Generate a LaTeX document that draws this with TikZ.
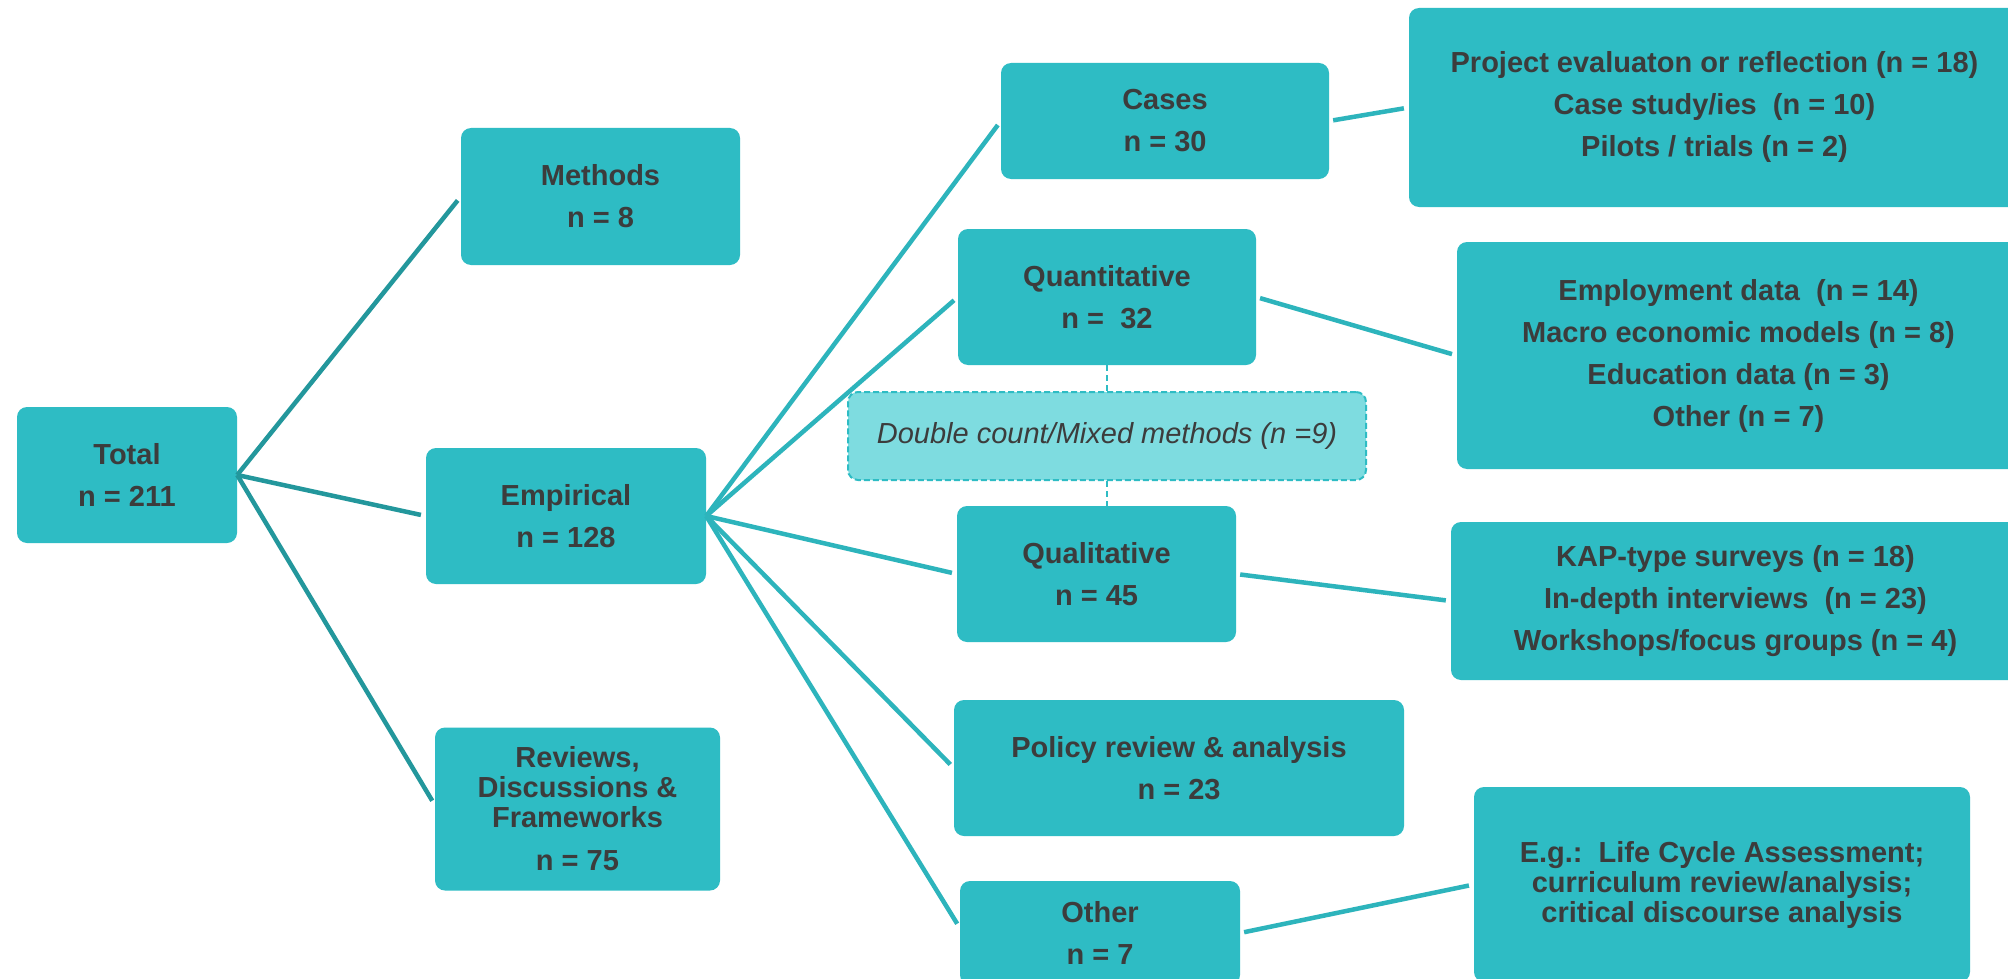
\documentclass[tikz,border=0pt]{standalone}
\usepackage{fontspec}
\setmainfont{Liberation Sans}
\usetikzlibrary{calc}
\definecolor{boxfill}{HTML}{2EBCC4}
\definecolor{lineL}{HTML}{23979C}
\definecolor{lineR}{HTML}{2DB4BC}
\definecolor{txt}{HTML}{3C3C3C}
\definecolor{dfill}{HTML}{7EDCE0}
\begin{document}
\begin{tikzpicture}[x=1pt,y=-1pt,
  box/.style={fill=boxfill, rounded corners=10pt, align=center, text=txt, inner sep=0pt,
    font=\bfseries\fontsize{29}{42}\selectfont},
  tight/.style={font=\bfseries\fontsize{29}{30}\selectfont},
  connL/.style={draw=lineL, line width=4.5pt, shorten >=5pt},
  connR/.style={draw=lineR, line width=4.5pt, shorten >=5pt, shorten <=4pt},
  dconn/.style={draw=boxfill, line width=2pt, dash pattern=on 6pt off 4pt}]
\useasboundingbox (0,0) rectangle (2008,979);
\clip (0,0) rectangle (2008,979);
\fill[white] (0,0) rectangle (2008,979);

% level 1
\node[box, minimum width=220pt, minimum height=136pt] (total) at (127,475) {Total\\n = 211};
% level 2
\node[box, minimum width=279pt, minimum height=137pt] (methods) at (600.5,196.5) {Methods\\n = 8};
\node[box, minimum width=280pt, minimum height=136pt] (empirical) at (566,516) {Empirical\\n = 128};
\node[box, tight, minimum width=285pt, minimum height=163pt] (reviews) at (577.5,809) {Reviews,\\Discussions \&\\Frameworks\\[13pt]n = 75};
% level 3
\node[box, minimum width=328pt, minimum height=116pt] (cases) at (1165,121) {Cases\\n = 30};
\node[box, minimum width=298pt, minimum height=136pt] (quant) at (1107,297) {Quantitative\\n =\ \ 32};
\node[fill=dfill, draw=boxfill, line width=2pt, dash pattern=on 6pt off 3pt, rounded corners=10pt,
  minimum width=518pt, minimum height=88pt, inner sep=0pt, text=txt,
  font=\itshape\fontsize{29}{35}\selectfont] (double) at (1107,436) {Double count/Mixed methods (n =9)};
\node[box, minimum width=279pt, minimum height=136pt] (qual) at (1096.5,574) {Qualitative\\n = 45};
\node[box, minimum width=450pt, minimum height=136pt] (policy) at (1179,768) {Policy review \& analysis\\n = 23};
\node[box, minimum width=280pt, minimum height=104pt] (other) at (1100,933) {Other\\n = 7};
% level 4
\node[box, minimum width=611pt, minimum height=199pt] (project) at (1714.5,107.5) {Project evaluaton or reflection (n = 18)\\Case study/ies\ \ (n = 10)\\Pilots / trials (n = 2)};
\node[box, minimum width=563pt, minimum height=227pt] (employ) at (1738.5,355.5) {Employment data\ \ (n = 14)\\Macro economic models (n = 8)\\Education data (n = 3)\\Other (n = 7)};
\node[box, minimum width=569pt, minimum height=158pt] (kap) at (1735.5,601) {KAP-type surveys (n = 18)\\In-depth interviews\ \ (n = 23)\\Workshops/focus groups (n = 4)};
\node[box, tight, minimum width=496pt, minimum height=195pt] (eg) at (1722,884.5) {E.g.:\ \ Life Cycle Assessment;\\curriculum review/analysis;\\critical discourse analysis};

% connectors from Total
\draw[connL] (total.east) -- (methods.west);
\draw[connL] (total.east) -- (empirical.west);
\draw[connL] (total.east) -- ([yshift=4pt]reviews.west);
% connectors from Empirical
\draw[connR, shorten <=0pt] (empirical.east) -- (cases.west);
\draw[connR, shorten <=0pt] (empirical.east) -- (quant.west);
\draw[connR, shorten <=0pt] (empirical.east) -- (qual.west);
\draw[connR, shorten <=0pt] (empirical.east) -- (policy.west);
\draw[connR, shorten <=0pt] (empirical.east) -- ([yshift=5pt]other.west);
% right connectors
\draw[connR] (cases.east) -- (project.west);
\draw[connR] (quant.east) -- (employ.west);
\draw[connR] (qual.east) -- (kap.west);
\draw[connR] (other.east) -- (eg.west);
% dashed
\draw[dconn] (quant.south) -- (double.north);
\draw[dconn] (double.south) -- (double.south |- qual.north);
\end{tikzpicture}
\end{document}
